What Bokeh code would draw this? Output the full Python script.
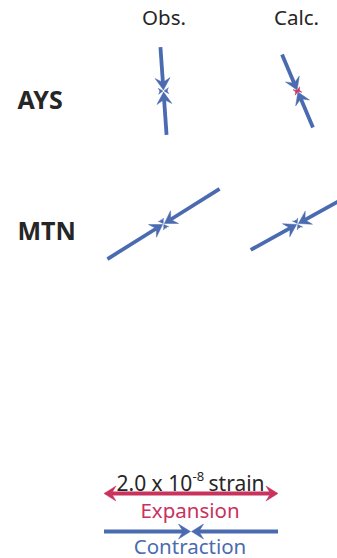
import math
from bokeh.plotting import figure
from bokeh.models import Range1d
from bokeh.embed import file_html
from bokeh.resources import INLINE
from bokeh.core.properties import value

# ---------------- data ----------------
stations = ["AYS", "MTN"]
columns = ["Obs.", "Calc."]
# principal strains in units of 1e-8 (negative = contraction, positive = expansion)
# azimuth (deg, clockwise from north) of the major axis; minor axis is perpendicular
obs_azimuth = [-4.0, 58.0]
obs_major = [-1.01, -1.52]
obs_minor = [-0.09, -0.12]
calc_azimuth = [-23.0, 61.0]
calc_major = [-0.91, -1.23]
calc_minor = [0.02, -0.10]
scale_strain = 2.0           # x 10^-8
scale_text = ["2.0 x 10", "-8", "strain"]
legend_labels = ["Expansion", "Contraction"]

# ---------------- style / layout ----------------
BLUE = "#4a6bb0"
RED = "#c9325c"
TXT = "#262626"
FONT = "Noto Sans"
PX_PER_UNIT = 87.0  # pixels per 1e-8 strain (full arrow length)
col_x = [163.0, 297.0]
row_y = [90.5, 223.5]

p = figure(width=337, height=558, output_backend="svg", toolbar_location=None,
           x_range=Range1d(0, 337), y_range=Range1d(558, 0),
           x_axis_type=None, y_axis_type=None, min_border=0)
p.grid.visible = False
p.outline_line_color = None
p.background_fill_color = "white"
p.border_fill_color = "white"

seg = {"x0": [], "y0": [], "x1": [], "y1": [], "c": [], "w": []}
heads = {"xs": [], "ys": [], "c": []}


def add_head(tx, ty, dx, dy, L, W, notch, color):
    nx, ny = -dy, dx
    bx, by = tx - L * dx, ty - L * dy
    heads["xs"].append([tx, bx + W * nx, tx - (L - notch) * dx, bx - W * nx])
    heads["ys"].append([ty, by + W * ny, ty - (L - notch) * dy, by - W * ny])
    heads["c"].append(color)


def add_seg(x0, y0, x1, y1, color, w):
    seg["x0"].append(x0); seg["y0"].append(y0)
    seg["x1"].append(x1); seg["y1"].append(y1)
    seg["c"].append(color); seg["w"].append(w)


def strain_axis(cx, cy, az, e, big):
    ux, uy = math.sin(math.radians(az)), -math.cos(math.radians(az))
    half = abs(e) * PX_PER_UNIT / 2.0
    if big:
        L, W, notch, lw, gap = 12.0, 7.5, 4.5, 3.8, 1.0
    else:
        L, W, notch, lw, gap = 4.5, 3.0, 1.6, 1.4, 0.6
    color = BLUE if e < 0 else RED
    for s in (1, -1):
        ex, ey = cx + s * half * ux, cy + s * half * uy
        if e < 0:
            dx, dy = -s * ux, -s * uy
            tx, ty = cx - dx * gap, cy - dy * gap
            add_seg(ex, ey, tx - dx * (L - notch), ty - dy * (L - notch), color, lw)
            add_head(tx, ty, dx, dy, L, W, notch, color)
        else:
            dx, dy = s * ux, s * uy
            add_seg(cx, cy, ex - dx * (L - notch), ey - dy * (L - notch), color, lw)
            add_head(ex, ey, dx, dy, L, W, notch, color)


for i in range(len(stations)):
    strain_axis(col_x[0], row_y[i], obs_azimuth[i], obs_major[i], True)
    strain_axis(col_x[0], row_y[i], obs_azimuth[i] + 90, obs_minor[i], False)
    strain_axis(col_x[1], row_y[i], calc_azimuth[i], calc_major[i], True)
    strain_axis(col_x[1], row_y[i], calc_azimuth[i] + 90, calc_minor[i], False)

# scale bar
sc_x, sc_y_exp, sc_y_con = 190.5, 493.0, 531.0
strain_axis_len = scale_strain * PX_PER_UNIT / 2.0
# expansion: double-headed outward
for s in (1, -1):
    ex = sc_x + s * strain_axis_len
    add_seg(sc_x, sc_y_exp, ex - s * 7.5, sc_y_exp, RED, 3.8)
    add_head(ex, sc_y_exp, s, 0.0, 12.0, 7.5, 4.5, RED)
# contraction: inward heads at centre
for s in (1, -1):
    ex = sc_x + s * strain_axis_len
    tx = sc_x + s * 0.5
    add_seg(ex, sc_y_con, tx + s * 7.5, sc_y_con, BLUE, 3.8)
    add_head(tx, sc_y_con, -s, 0.0, 12.0, 7.5, 4.5, BLUE)

p.segment(x0="x0", y0="y0", x1="x1", y1="y1", line_color="c", line_width="w",
          line_cap="butt", source=seg)
p.patches(xs="xs", ys="ys", fill_color="c", line_color="c", line_width=0.5, source=heads)

# texts
p.text(x=[163.5, 296], y=[16, 16], text=columns, text_font=value(FONT), text_font_size="20.5px",
       text_color=TXT, text_align="center", text_baseline="middle")
p.text(x=[17, 17], y=[98, 229], text=stations, text_font=value(FONT), text_font_size="25px",
       text_font_style="bold", text_color=TXT, text_align="left", text_baseline="middle")
p.text(x=[116], y=[482], text=[scale_text[0]], text_font=value(FONT), text_font_size="21px",
       text_color=TXT, text_align="left", text_baseline="alphabetic")
p.text(x=[192], y=[476], text=[scale_text[1]], text_font=value(FONT), text_font_size="13px",
       text_color=TXT, text_align="left", text_baseline="alphabetic")
p.text(x=[208], y=[482], text=[scale_text[2]], text_font=value(FONT), text_font_size="21px",
       text_color=TXT, text_align="left", text_baseline="alphabetic")
p.text(x=[sc_x - 1], y=[509], text=[legend_labels[0]], text_font=value(FONT), text_font_size="20.5px",
       text_color=RED, text_align="center", text_baseline="middle")
p.text(x=[sc_x - 1], y=[545], text=[legend_labels[1]], text_font=value(FONT), text_font_size="20.5px",
       text_color=BLUE, text_align="center", text_baseline="middle")

open("out.html", "w").write(file_html(p, INLINE))
